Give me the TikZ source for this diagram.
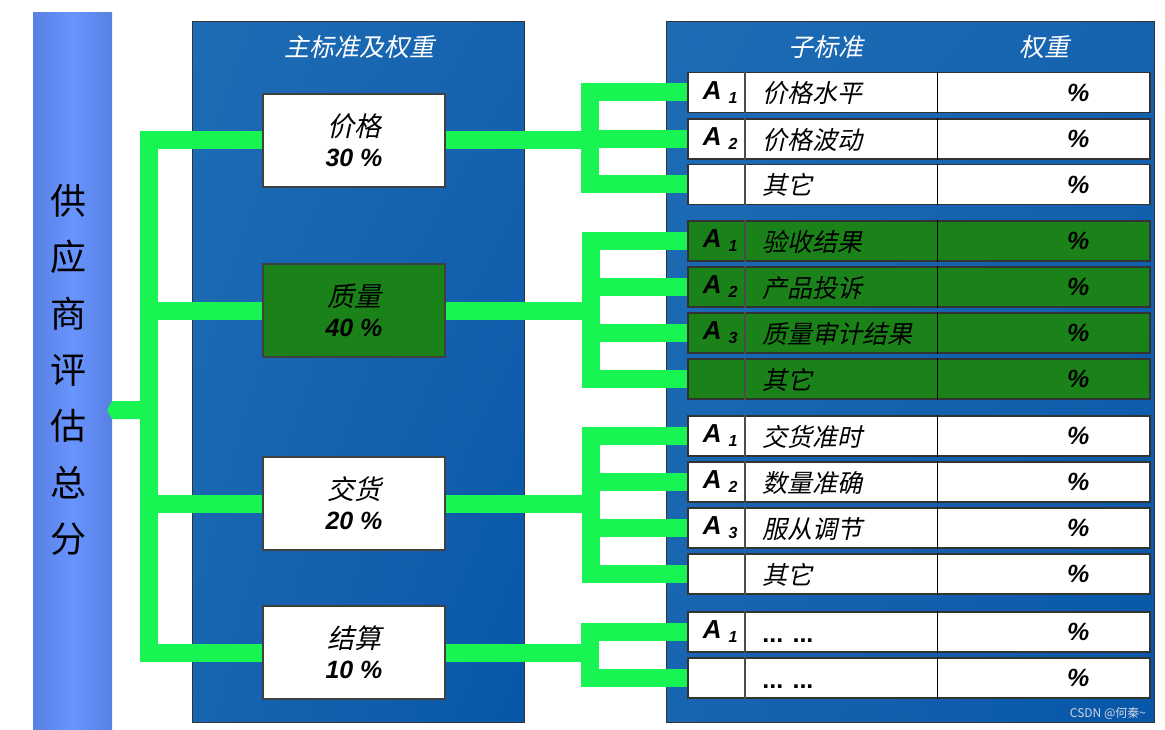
\documentclass[tikz,border=0pt]{standalone}
\usepackage{fontspec}
\newfontfamily\cjk{Noto Sans CJK SC}
\newfontfamily\cjki[FakeSlant=0.22]{Noto Sans CJK SC}
\newfontfamily\lat{Liberation Sans}
\usetikzlibrary{calc,shadings}
\definecolor{connc}{RGB}{24,245,82}
\definecolor{panelA}{RGB}{30,108,180}
\definecolor{panelB}{RGB}{8,86,168}
\definecolor{barA}{RGB}{88,128,226}
\definecolor{barB}{RGB}{104,148,255}
\definecolor{rowg}{RGB}{26,130,24}
\definecolor{rowgd}{RGB}{0,118,0}
\definecolor{wm}{RGB}{205,215,230}
\pgfdeclarelayer{panel}
\pgfdeclarelayer{wire}
\pgfsetlayers{panel,wire,main}
\tikzset{
  panelbox/.style={draw=black!80, line width=1pt, inner sep=0pt,
     upper left=panelA, upper right=panelA!60!panelB, lower left=panelA!70!panelB, lower right=panelB},
  mbox/.style={draw=black!75, line width=1.3pt, fill=white, minimum width=182pt, minimum height=93pt,
     inner sep=0pt, align=center, font=\cjki\fontsize{27}{30}\selectfont},
  rowbox/.style={draw=black!80, line width=1.5pt, minimum width=462pt, minimum height=40pt, inner sep=0pt},
  div1/.style={draw=black!70, line width=1.6pt},
  div2/.style={draw=black, line width=1pt},
  conn/.style={draw=connc, line width=18pt},
  lbl/.style={inner sep=0pt, font=\lat\bfseries\itshape\fontsize{26}{26}\selectfont},
  txt/.style={inner sep=0pt, font=\cjki\fontsize{25}{26}\selectfont},
  pct/.style={inner sep=0pt, font=\lat\bfseries\itshape\fontsize{25}{26}\selectfont},
  head/.style={inner sep=0pt, text=white, font=\cjki\fontsize{25}{26}\selectfont},
}
\newcommand\Asub[1]{A\hspace{7pt}\raisebox{-4pt}{\fontsize{16}{16}\selectfont #1}}
\newcommand\pcline[1]{{\lat\bfseries\itshape\fontsize{25}{30}\selectfont #1 \%}}
\newcommand\mysubrow[5]{%
  \node[rowbox,fill=#3] (#1) at (919,#2) {};
  \draw[div1] ([xshift=58pt]#1.north west) -- ([xshift=58pt]#1.south west);
  \draw[div2] ([xshift=250pt]#1.north west) -- ([xshift=250pt]#1.south west);
  \if\relax\detokenize{#4}\relax\else\node[lbl] (#1a) at ([xshift=33pt]#1.west) {#4};\fi
  \node[txt,anchor=base west] (#1t) at ($(#1.west)+(75,10.5)$) {#5};
  \node[pct] (#1p) at ([xshift=391pt]#1.west) {\%};
}
\begin{document}
\begin{tikzpicture}[x=1pt,y=-1pt]
\useasboundingbox (0,0) rectangle (1165,730);
\begin{pgfonlayer}{panel}
  \node[shade, left color=barA, right color=barA, middle color=barB, minimum width=79pt,
        minimum height=717pt, inner sep=0pt] (lb) at (72.5,371.5) {};
  \node[panelbox, shade, minimum width=332pt, minimum height=700pt] (mp) at (358,372) {};
  \node[panelbox, shade, minimum width=488pt, minimum height=700pt] (sp) at (910,372) {};
\end{pgfonlayer}
% left bar text
\node[inner sep=0pt, align=center, font=\cjk\fontsize{36}{56.3}\selectfont] (lbt) at (68,370)
  {供\\应\\商\\评\\估\\总\\分};
% headers
\node[head] (h1) at (359,47) {主标准及权重};
\node[head] (h2) at (826,47) {子标准};
\node[head] (h3) at (1044,47) {权重};
% main boxes
\node[mbox] (m1) at (354,140.5) {价格\\\pcline{30}};
\node[mbox, fill=rowg] (m2) at (354,310.5) {质量\\\pcline{40}};
\node[mbox] (m3) at (354,503.5) {交货\\\pcline{20}};
\node[mbox] (m4) at (354,652.5) {结算\\\pcline{10}};
% sub rows
\mysubrow{r11}{92.5}{white}{\Asub{1}}{价格水平}
\mysubrow{r12}{139}{white}{\Asub{2}}{价格波动}
\mysubrow{r13}{184.5}{white}{}{其它}
\mysubrow{r21}{241}{rowg}{\Asub{1}}{验收结果}
\mysubrow{r22}{287}{rowg}{\Asub{2}}{产品投诉}
\mysubrow{r23}{333}{rowg}{\Asub{3}}{质量审计结果}
\mysubrow{r24}{379}{rowg}{}{其它}
\mysubrow{r31}{436}{white}{\Asub{1}}{交货准时}
\mysubrow{r32}{482}{white}{\Asub{2}}{数量准确}
\mysubrow{r33}{528}{white}{\Asub{3}}{服从调节}
\mysubrow{r34}{574}{white}{}{其它}
\mysubrow{r41}{632}{white}{\Asub{1}}{{\lat\bfseries ... ...}}
\mysubrow{r42}{678}{white}{}{{\lat\bfseries ... ...}}
% watermark
\node[inner sep=0pt, text=wm, font=\cjk\fontsize{12}{14}\selectfont] (wmk) at (1108,713) {CSDN @何秦\textasciitilde};
% connectors
\begin{pgfonlayer}{wire}
  \coordinate (t1) at (149,0);
  \draw[conn] (m1.west) -| (t1 |- m4.west) -- (m4.west);
  \draw[conn] (m2.west) -- (m2.west -| t1);
  \draw[conn] (m3.west) -- (m3.west -| t1);
  \coordinate (tip) at (107,410);
  \fill[connc] (tip) -- ++(5,-9) -- (t1 |- 0,401) -- (t1 |- 0,419) -- ($(tip)+(5,9)$) -- cycle;
  \coordinate (b1) at (589.5,139);
  \coordinate (b2) at (590.5,310.5);
  \coordinate (b3) at (590.5,503.5);
  \coordinate (b4) at (589.5,652.5);
  \draw[conn] (r11.west) -| (b1) |- (r13.west);
  \draw[conn] (r12.west) -- (r12.west -| b1);
  \draw[conn] (m1.east) -- (m1.east -| b1);
  \draw[conn] (r21.west) -| (b2) |- (r24.west);
  \draw[conn] (r22.west) -- (r22.west -| b2);
  \draw[conn] (r23.west) -- (r23.west -| b2);
  \draw[conn] (m2.east) -- (m2.east -| b2);
  \draw[conn] (r31.west) -| (b3) |- (r34.west);
  \draw[conn] (r32.west) -- (r32.west -| b3);
  \draw[conn] (r33.west) -- (r33.west -| b3);
  \draw[conn] (m3.east) -- (m3.east -| b3);
  \draw[conn] (r41.west) -| (b4) |- (r42.west);
  \draw[conn] (m4.east) -- (m4.east -| b4);
\end{pgfonlayer}
\end{tikzpicture}
\end{document}
